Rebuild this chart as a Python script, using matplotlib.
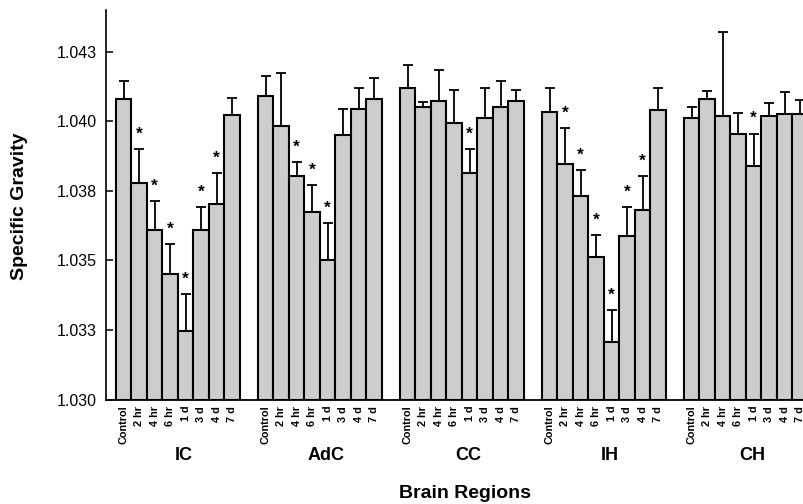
import matplotlib
matplotlib.use("Agg")
import matplotlib.pyplot as plt
import numpy as np

plt.rcParams['font.family'] = ['Liberation Sans', 'DejaVu Sans']

regions = ["IC", "AdC", "CC", "IH", "CH"]
times = ["Control", "2 hr", "4 hr", "6 hr", "1 d", "3 d", "4 d", "7 d"]

ic_mean = [1.04081, 1.03779, 1.03610, 1.03452, 1.03246, 1.03610, 1.03702, 1.04023]
ic_err = [0.00065, 0.00120, 0.00102, 0.00107, 0.00133, 0.00083, 0.00113, 0.00059]
adc_mean = [1.04091, 1.03984, 1.03805, 1.03674, 1.03503, 1.03951, 1.04044, 1.04081]
adc_err = [0.00073, 0.00191, 0.00048, 0.00098, 0.00132, 0.00094, 0.00077, 0.00073]
cc_mean = [1.04120, 1.04051, 1.04072, 1.03994, 1.03814, 1.04013, 1.04051, 1.04072]
cc_err = [0.00084, 0.00020, 0.00112, 0.00117, 0.00086, 0.00108, 0.00095, 0.00040]
ih_mean = [1.04032, 1.03845, 1.03731, 1.03512, 1.03208, 1.03589, 1.03682, 1.04042]
ih_err = [0.00089, 0.00131, 0.00094, 0.00078, 0.00113, 0.00103, 0.00122, 0.00076]
ch_mean = [1.04012, 1.04079, 1.04019, 1.03955, 1.03840, 1.04019, 1.04027, 1.04027]
ch_err = [0.00038, 0.00029, 0.00302, 0.00075, 0.00116, 0.00047, 0.00080, 0.00050]

ic_sig = [0, 1, 1, 1, 1, 1, 1, 0]
adc_sig = [0, 0, 1, 1, 1, 0, 0, 0]
cc_sig = [0, 0, 0, 0, 1, 0, 0, 0]
ih_sig = [0, 1, 1, 1, 1, 1, 1, 0]
ch_sig = [0, 0, 0, 0, 1, 0, 0, 0]

ytick_vals = [1.030, 1.0325, 1.035, 1.0375, 1.040, 1.0425]
ytick_labels = ["1.030", "1.033", "1.035", "1.038", "1.040", "1.043"]

means = [ic_mean, adc_mean, cc_mean, ih_mean, ch_mean]
errs = [ic_err, adc_err, cc_err, ih_err, ch_err]
sigs = [ic_sig, adc_sig, cc_sig, ih_sig, ch_sig]

fig = plt.figure(figsize=(8.04, 5.04), dpi=100)
W, H = 804, 504
ax_l, ax_r, ax_t, ax_b = 106, 804, 10, 399.5
ax = fig.add_axes([ax_l / W, 1 - ax_b / H, (ax_r - ax_l) / W, (ax_b - ax_t) / H])

period = 9.16
fill = "#cdcdcd"
all_x, all_lab = [], []
for g, (m, e, s) in enumerate(zip(means, errs, sigs)):
    x = g * period + np.arange(len(times))
    ax.errorbar(x, m, yerr=[np.zeros(len(e)), e], fmt="none", ecolor="black",
                elinewidth=1.3, capsize=3.6, capthick=1.3, zorder=2)
    ax.bar(x, np.array(m) - 1.030, bottom=1.030, width=1.0, color=fill,
           edgecolor="black", linewidth=1.5, zorder=3)
    for xi, mi, ei, si in zip(x, m, e, s):
        if si:
            ax.annotate("*", (xi, mi + ei), xytext=(0, 7.5), textcoords="offset points",
                        ha="center", va="baseline", fontsize=12.5, fontweight="bold")
    ax.text(x.mean() + 0.4, -0.145, regions[g], transform=ax.get_xaxis_transform(),
            ha="center", va="center", fontsize=13, fontweight="bold")
    all_x.extend(x)
    all_lab.extend(times)

ax.set_xlim(-1.145, -1.145 + (ax_r - ax_l) / 15.5)
ax.set_ylim(1.030, 1.044)
ax.set_yticks(ytick_vals)
ax.set_yticklabels(ytick_labels, fontsize=11.5)
ax.tick_params(axis="y", direction="in", length=5, width=1.1, pad=6.5)
ax.set_xticks(all_x)
ax.set_xticklabels(all_lab, rotation=90, fontsize=7.8, fontweight="bold", va="top", ha="center")
ax.tick_params(axis="x", length=0, pad=4.5)

for side in ["top", "right"]:
    ax.spines[side].set_visible(False)
ax.spines["left"].set_linewidth(1.2)
ax.spines["bottom"].set_linewidth(1.3)

fig.text(20 / W, 1 - 206 / H, "Specific Gravity", rotation=90, ha="center", va="center",
         fontsize=14, fontweight="bold")
fig.text(465 / W, 1 - 493 / H, "Brain Regions", ha="center", va="center",
         fontsize=14, fontweight="bold")

fig.savefig("out.png", dpi=100)
